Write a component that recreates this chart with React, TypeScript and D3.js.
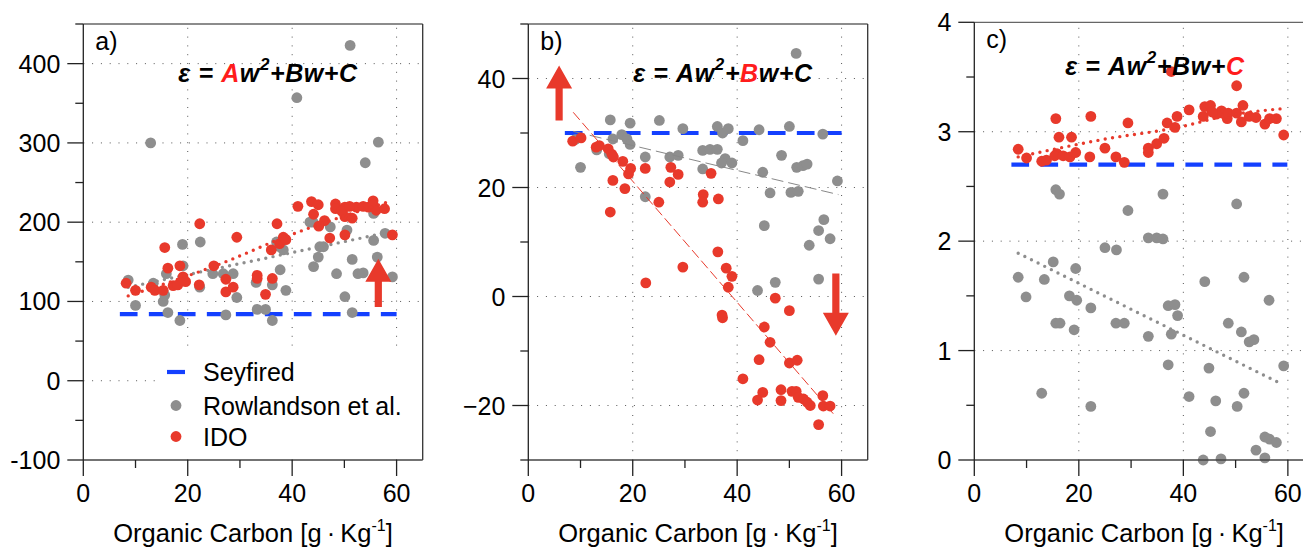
import React from 'react';
import * as d3 from 'd3';

const W = 1303;
const H = 548;
const FONT = "'Liberation Sans', Arial, Helvetica, sans-serif";
const RED = '#e8392b';
const GRAY = '#8e8e8e';
const BLUE = '#1440ff';
const EQ_RED = '#ff1c1c';

type Pt = [number, number];

// ---------------- Panel a) ----------------
const redA: Pt[] = [
  [8.2, 123], [10.0, 114], [13.0, 118], [13.7, 114], [15.3, 114], [15.6, 168], [16.2, 142], [17.2, 120],
  [18.5, 145], [18.1, 121], [19.1, 131], [19.6, 125], [22.3, 198], [22.2, 121], [25.0, 145], [29.4, 181],
  [27.3, 128], [27.3, 112], [28.7, 118], [33.3, 133], [33.3, 129], [34.9, 109], [36.2, 129], [37.1, 198],
  [36.0, 165], [37.6, 173], [38.3, 181], [38.8, 178], [41.1, 220], [43.7, 226], [45.0, 222], [44.1, 210],
  [46.2, 202], [45.1, 195], [47.2, 180], [48.3, 223], [48.3, 217], [50.1, 184], [50.1, 219], [50.1, 207],
  [51.5, 205], [52.3, 219], [53.6, 220], [54.6, 219], [55.5, 227], [55.5, 222], [56.1, 215], [57.7, 217],
  [59.2, 184], [49.5, 214], [51.0, 220],
];
const grayA: Pt[] = [
  [12.9, 300], [40.9, 357], [51.1, 423], [56.5, 301], [54.0, 275], [19.0, 172], [22.4, 175], [43.4, 200],
  [47.3, 194], [50.5, 190], [55.6, 211], [57.8, 186], [55.6, 177], [45.3, 169], [8.6, 127], [10.0, 95],
  [13.4, 123], [15.3, 100], [15.6, 108], [16.2, 86], [15.9, 135], [18.5, 76], [19.1, 145], [22.3, 118],
  [24.8, 135], [27.3, 83], [28.7, 135], [26.8, 135], [29.4, 105], [33.3, 90], [34.9, 90], [36.2, 76],
  [36.2, 121], [33.1, 124], [37.7, 140], [38.8, 114], [37.6, 169], [37.0, 175], [38.3, 165], [46.0, 169],
  [45.0, 156], [44.1, 144], [48.5, 135], [50.1, 106], [51.5, 153], [51.5, 86], [52.6, 135], [53.6, 136],
  [56.3, 156], [59.2, 131], [44.0, 200],
];
const seyfriedA: Pt[] = [[7, 84], [60, 84]];
const redFitA: Pt[] = [[8.6, 107], [28, 152], [37, 177], [59, 227]];
const grayFitA: Pt[] = [[8.6, 118], [59, 188]];

// ---------------- Panel b) ----------------
const redB: Pt[] = [
  [8.5, 28.5], [10.1, 29.1], [13.0, 27.4], [13.6, 27.7], [15.3, 27.1], [16.0, 26.1], [16.3, 25.6], [16.2, 21.3],
  [15.7, 15.5], [18.1, 24.8], [18.5, 19.8], [19.2, 22.5], [19.6, 23.5], [22.4, 23.5], [25.0, 17.3], [27.3, 23.7],
  [28.7, 22.4], [27.1, 21.0], [33.5, 18.7], [33.4, 17.3], [35.0, 22.6], [36.4, 17.9], [36.3, 8.2], [29.6, 5.4],
  [22.5, 2.5], [37.9, 5.2], [39.0, 3.7], [38.3, 1.7], [37.2, -3.9], [37.1, -3.4], [47.3, -0.3], [50.0, -2.6],
  [45.2, -5.6], [46.3, -8.4], [44.2, -11.6], [50.0, -12.2], [51.5, -11.7], [41.1, -15.1], [44.9, -17.6],
  [43.9, -19.0], [48.4, -17.1], [48.4, -19.1], [50.5, -17.4], [51.3, -17.4], [51.7, -18.5], [52.7, -18.8],
  [53.4, -19.4], [54.0, -20.0], [56.4, -18.2], [56.5, -20.1], [57.8, -20.1], [55.6, -23.5],
];
const grayB: Pt[] = [
  [9.0, 28.8], [15.7, 32.4], [19.5, 31.8], [25.1, 32.3], [29.6, 30.8], [10.0, 23.7], [13.1, 26.9], [16.2, 28.9],
  [17.9, 29.7], [18.9, 28.9], [19.5, 27.9], [15.5, 26.2], [22.4, 25.6], [22.4, 18.3], [27.1, 25.6], [28.7, 25.9],
  [33.4, 26.8], [34.8, 27.0], [36.2, 27.0], [33.4, 23.4], [36.2, 31.2], [37.2, 30.0], [38.3, 30.8], [37.7, 25.3],
  [37.0, 24.5], [39.0, 24.5], [41.1, 28.6], [44.2, 30.6], [44.9, 22.8], [46.3, 19.0], [45.2, 13.0], [48.5, 25.9],
  [50.0, 31.2], [51.3, 44.6], [50.3, 19.1], [51.7, 19.3], [51.4, 23.7], [52.6, 24.0], [53.4, 24.3], [56.4, 29.8],
  [59.2, 21.2], [56.6, 14.1], [55.6, 12.1], [57.8, 10.6], [53.8, 9.4], [55.6, 3.2], [43.9, 1.1], [47.3, 2.6],
];
const seyfriedB: Pt[] = [[7, 30], [60, 30]];
const redFitB: Pt[] = [[8.6, 33.8], [58.4, -21.5]];
const grayFitB: Pt[] = [[8.6, 30.3], [59.4, 18.7]];

// ---------------- Panel c) ----------------
const redC: Pt[] = [
  [8.4, 2.84], [10.0, 2.76], [12.9, 2.73], [13.8, 2.74], [15.6, 3.12], [16.2, 2.95], [15.8, 2.80], [15.4, 2.78],
  [17.0, 2.78], [18.6, 2.95], [18.3, 2.77], [19.4, 2.81], [22.3, 3.14], [22.1, 2.77], [25.0, 2.85], [27.1, 2.77],
  [28.7, 2.72], [29.4, 3.08], [33.3, 2.85], [33.3, 2.81], [34.9, 2.89], [36.3, 2.94], [36.9, 3.08], [37.7, 3.55],
  [38.4, 3.04], [38.8, 3.14], [41.1, 3.20], [43.8, 3.14], [44.1, 3.23], [45.2, 3.24], [47.3, 3.19], [48.4, 3.12],
  [48.6, 3.17], [50.2, 3.42], [50.2, 3.17], [51.4, 3.24], [51.1, 3.09], [52.6, 3.14], [53.9, 3.13], [55.6, 3.07],
  [56.5, 3.12], [57.8, 3.12], [59.2, 2.97], [46.3, 3.16], [45.5, 3.18],
];
const grayC: Pt[] = [
  [15.6, 2.47], [16.3, 2.43], [36.1, 2.43], [29.4, 2.28], [50.2, 2.34], [33.3, 2.03], [34.9, 2.03], [36.1, 2.02],
  [25.0, 1.94], [27.2, 1.92], [8.4, 1.67], [9.9, 1.49], [12.9, 0.61], [13.4, 1.65], [15.1, 1.81], [15.6, 1.25],
  [16.4, 1.25], [18.2, 1.50], [19.4, 1.75], [19.6, 1.46], [19.1, 1.19], [22.3, 1.39], [22.3, 0.49], [27.1, 1.25],
  [28.7, 1.25], [33.3, 1.13], [37.1, 0.87], [37.1, 1.41], [38.4, 1.42], [38.9, 1.32], [37.7, 1.15], [41.1, 0.58],
  [44.1, 1.63], [44.9, 0.84], [45.2, 0.26], [43.8, 0.0], [46.2, 0.54], [47.2, 0.01], [48.6, 1.25], [50.3, 0.49],
  [51.6, 1.67], [51.1, 1.17], [51.6, 0.61], [52.6, 1.08], [53.5, 1.10], [53.9, 0.09], [55.6, 0.02], [55.6, 0.21],
  [56.4, 1.46], [56.5, 0.19], [57.8, 0.16], [59.2, 0.86],
];
const seyfriedC: Pt[] = [[7.1, 2.7], [59.9, 2.7]];
const redFitC: Pt[] = [[8.4, 2.77], [24.7, 2.93], [40, 3.05], [47.6, 3.14], [58.8, 3.21]];
const grayFitC: Pt[] = [[8.4, 1.89], [59, 0.69]];

// tick values
const xMajor = [0, 20, 40, 60];
const xMinor = [10, 30, 50];
const yMajorA = [-100, 0, 100, 200, 300, 400];
const yMinorA = [-50, 50, 150, 250, 350, 450];
const yMajorB = [-20, 0, 20, 40];
const yMinorB = [-30, -10, 10, 30, 50];
const yMajorC = [0, 1, 2, 3, 4];
const yMinorC = [0.5, 1.5, 2.5, 3.5];

const legendLabels = ['Seyfired', 'Rowlandson et al.', 'IDO'];

type Arrow = { x: number; y0: number; y1: number };
const arrowsA: Arrow[] = [{ x: 56.5, y0: 93, y1: 154 }];
const arrowsB: Arrow[] = [{ x: 5.9, y0: 32.3, y1: 42.4 }, { x: 58.9, y0: 4.2, y1: -7.2 }];
const arrowsC: Arrow[] = [];

interface PanelProps {
  left: number; right: number; top: number; bottom: number;
  yDomain: [number, number];
  yMajor: number[]; yMinor: number[];
  yLabel: (v: number) => string;
  red: Pt[]; gray: Pt[]; seyfried: Pt[]; redFit: Pt[]; grayFit: Pt[];
  fitStyle: 'dotted' | 'dashed';
  label: string;
  eqPos: Pt; eqRed: 'A' | 'B' | 'C';
  arrows: Arrow[];
  legend?: boolean;
}

function Equation({ x, y, red }: { x: number; y: number; red: string }) {
  const c = (k: string) => (k === red ? EQ_RED : '#000');
  return (
    <text x={x} y={y} fontFamily={FONT} fontSize={25} fontWeight="bold" fontStyle="italic" letterSpacing={0.6}>
      <tspan>{'ε = '}</tspan>
      <tspan fill={c('A')}>A</tspan>
      <tspan>w</tspan>
      <tspan fontSize={17} dy={-12}>2</tspan>
      <tspan dy={12}>+</tspan>
      <tspan fill={c('B')}>B</tspan>
      <tspan>w+</tspan>
      <tspan fill={c('C')}>C</tspan>
    </text>
  );
}

function Panel(p: PanelProps) {
  const x = d3.scaleLinear().domain([0, 65]).range([p.left, p.right]);
  const y = d3.scaleLinear().domain(p.yDomain).range([p.bottom, p.top]);
  const line = d3.line<Pt>().x((d) => x(d[0])).y((d) => y(d[1]));
  const curve = d3.line<Pt>().x((d) => x(d[0])).y((d) => y(d[1])).curve(d3.curveMonotoneX);
  const frame = '#444';
  const gridStyle = { stroke: '#555', strokeWidth: 1, strokeDasharray: '1 7.8' };
  const MAJ = 16, MIN = 8;
  const fitProps = (color: string, kind: 'red' | 'gray') =>
    p.fitStyle === 'dotted'
      ? { stroke: color, strokeWidth: 3.4, strokeDasharray: '0 7.4', strokeLinecap: 'round' as const, fill: 'none' }
      : { stroke: kind === 'red' ? RED : '#888', strokeWidth: 1, strokeDasharray: kind === 'red' ? '10 4' : '12 5', fill: 'none' };

  const arrowPath = (a: Arrow) => {
    const X = x(a.x), b = y(a.y0), t = y(a.y1);
    const dir = t < b ? 1 : -1; // 1 => pointing up
    const sw = 3.6, hw = 13, hl = 23;
    const hb = t + dir * hl;
    return `M${X - sw},${b}L${X - sw},${hb}L${X - hw},${hb}L${X},${t}L${X + hw},${hb}L${X + sw},${hb}L${X + sw},${b}Z`;
  };

  const ymin = p.yDomain[0], ymax = p.yDomain[1];
  return (
    <g>
      {/* grid */}
      {xMajor.filter((v) => v > 0).map((v) => (
        <line key={'gx' + v} x1={x(v)} x2={x(v)} y1={p.bottom} y2={p.top} style={gridStyle} />
      ))}
      {p.yMajor.filter((v) => v > ymin && v < ymax).map((v) => (
        <line key={'gy' + v} x1={p.left} x2={p.right} y1={y(v)} y2={y(v)} style={gridStyle} />
      ))}
      {/* legend background */}
      {p.legend && <rect x={157} y={347} width={p.right - 158} height={p.bottom - 348} fill="#fff" />}
      {/* Seyfried */}
      <path d={line(p.seyfried) || ''} stroke={BLUE} strokeWidth={4.2} strokeDasharray="17.7 11.3" fill="none" />
      {/* gray points */}
      {p.gray.map((d, i) => (
        <circle key={'g' + i} cx={x(d[0])} cy={y(d[1])} r={5.4} fill={GRAY} />
      ))}
      <path d={line(p.grayFit) || ''} {...fitProps(GRAY, 'gray')} />
      {/* red points */}
      {p.red.map((d, i) => (
        <circle key={'r' + i} cx={x(d[0])} cy={y(d[1])} r={5.4} fill={RED} />
      ))}
      <path d={curve(p.redFit) || ''} {...fitProps(RED, 'red')} />
      {/* arrows */}
      {p.arrows.map((a, i) => (
        <path key={'a' + i} d={arrowPath(a)} fill={RED} />
      ))}
      {/* frame */}
      <line x1={p.left} x2={p.right} y1={p.top} y2={p.top} stroke="#666" strokeWidth={1.3} />
      <line x1={p.right} x2={p.right} y1={p.top} y2={p.bottom} stroke="#333" strokeWidth={1.3} />
      <line x1={p.left} x2={p.right} y1={p.bottom} y2={p.bottom} stroke={frame} strokeWidth={1.3} />
      <line x1={p.left} x2={p.left} y1={p.top} y2={p.bottom} stroke="#222" strokeWidth={1.3} />
      {/* y ticks */}
      {p.yMajor.map((v) => (
        <g key={'ty' + v}>
          <line x1={p.left - MAJ} x2={p.left} y1={y(v)} y2={y(v)} stroke="#222" strokeWidth={1.3} />
          <text x={p.left - MAJ - 7} y={y(v)} dy="0.36em" textAnchor="end" fontFamily={FONT} fontSize={25}>
            {p.yLabel(v)}
          </text>
        </g>
      ))}
      {p.yMinor.map((v) => (
        <line key={'tym' + v} x1={p.left - MIN} x2={p.left} y1={y(v)} y2={y(v)} stroke="#222" strokeWidth={1.3} />
      ))}
      {/* x ticks */}
      {xMajor.map((v) => (
        <g key={'tx' + v}>
          <line x1={x(v)} x2={x(v)} y1={p.bottom} y2={p.bottom + MAJ} stroke="#222" strokeWidth={1.3} />
          <text x={x(v)} y={p.bottom + 42} textAnchor="middle" fontFamily={FONT} fontSize={25}>
            {v}
          </text>
        </g>
      ))}
      {xMinor.map((v) => (
        <line key={'txm' + v} x1={x(v)} x2={x(v)} y1={p.bottom} y2={p.bottom + MIN} stroke="#222" strokeWidth={1.3} />
      ))}
      {/* axis title */}
      <text x={(p.left + p.right) / 2} y={541.7} textAnchor="middle" fontFamily={FONT} fontSize={25.5}>
        <tspan>{'Organic Carbon [g\u2009·\u2009Kg'}</tspan>
        <tspan fontSize={16} dy={-11}>-1</tspan>
        <tspan dy={11}>]</tspan>
      </text>
      {/* panel label */}
      <text x={p.left + 12} y={p.top + 26} fontFamily={FONT} fontSize={25}>{p.label}</text>
      {/* equation */}
      <Equation x={x(p.eqPos[0])} y={y(p.eqPos[1])} red={p.eqRed} />
      {/* legend */}
      {p.legend && (
        <g fontFamily={FONT} fontSize={25}>
          <line x1={167} x2={185} y1={372} y2={372} stroke={BLUE} strokeWidth={4.2} />
          <text x={203} y={372} dy="0.36em">{legendLabels[0]}</text>
          <circle cx={176} cy={405.5} r={5.4} fill={GRAY} />
          <text x={203} y={405.5} dy="0.36em">{legendLabels[1]}</text>
          <circle cx={176} cy={436.5} r={5.4} fill={RED} />
          <text x={203} y={436.5} dy="0.36em">{legendLabels[2]}</text>
        </g>
      )}
    </g>
  );
}

export default function App() {
  return (
    <svg
      width={W}
      height={H}
      viewBox={`0 0 ${W} ${H}`}
      style={{ position: 'absolute', left: 0, top: 0, background: '#fff' }}
    >
      <rect x={0} y={0} width={W} height={H} fill="#fff" />
      <Panel
        left={83.3} right={422.7} top={24} bottom={460}
        yDomain={[-100, 450]} yMajor={yMajorA} yMinor={yMinorA}
        yLabel={(v) => String(v)}
        red={redA} gray={grayA} seyfried={seyfriedA} redFit={redFitA} grayFit={grayFitA}
        fitStyle="dotted" label="a)" eqPos={[18.2, 376.7]} eqRed="A" arrows={arrowsA} legend
      />
      <Panel
        left={528.3} right={867.7} top={24} bottom={460}
        yDomain={[-30, 50]} yMajor={yMajorB} yMinor={yMinorB}
        yLabel={(v) => (v < 0 ? '\u2212' + Math.abs(v) : String(v))}
        red={redB} gray={grayB} seyfried={seyfriedB} redFit={redFitB} grayFit={grayFitB}
        fitStyle="dashed" label="b)" eqPos={[20.1, 39.4]} eqRed="B" arrows={arrowsB}
      />
      <Panel
        left={974.3} right={1314} top={22.3} bottom={460}
        yDomain={[0, 4]} yMajor={yMajorC} yMinor={yMinorC}
        yLabel={(v) => String(v)}
        red={redC} gray={grayC} seyfried={seyfriedC} redFit={redFitC} grayFit={grayFitC}
        fitStyle="dotted" label="c)" eqPos={[17.4, 3.52]} eqRed="C" arrows={arrowsC}
      />
    </svg>
  );
}
